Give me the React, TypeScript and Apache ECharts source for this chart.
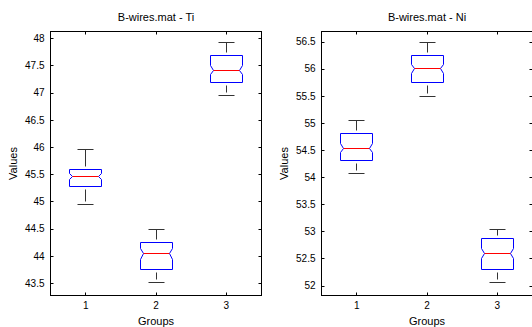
import React, { useEffect, useRef } from 'react';
import * as echarts from 'echarts';

const groups = ['1', '2', '3'];

// Ti
const tiLowerWhisker = [44.95, 43.52, 46.96];
const tiQ1 = [45.28, 43.76, 47.19];
const tiMedian = [45.46, 44.04, 47.42];
const tiQ3 = [45.6, 44.24, 47.68];
const tiUpperWhisker = [45.95, 44.48, 47.92];
const tiNotch = [0.055, 0.1, 0.08];

// Ni
const niLowerWhisker = [54.07, 55.5, 52.06];
const niQ1 = [54.31, 55.75, 52.3];
const niMedian = [54.54, 56.0, 52.59];
const niQ3 = [54.8, 56.24, 52.88];
const niUpperWhisker = [55.05, 56.48, 53.03];
const niNotch = [0.09, 0.083, 0.092];

const titles = ['B-wires.mat - Ti', 'B-wires.mat - Ni'];
const tiRange = [43.274, 48.129];
const niRange = [51.821, 56.69];

const FONT = "'Liberation Sans', Arial, sans-serif";

function boxData(lw: number[], q1: number[], med: number[], q3: number[], uw: number[], notch: number[]) {
  return groups.map((_, i) => [i, lw[i], q1[i], med[i], q3[i], uw[i], notch[i]]);
}

const px = (v: number) => Math.round(v - 0.5) + 0.5;

const renderBox = (params: any, api: any) => {
  const idx = api.value(0);
  const lw = api.value(1);
  const q1 = api.value(2);
  const med = api.value(3);
  const q3 = api.value(4);
  const uw = api.value(5);
  const notch = api.value(6);
  const band = api.size([1, 0])[0];
  const cx = px(api.coord([idx, med])[0]);
  const y = (v: number) => px(api.coord([idx, v])[1]);
  const w = Math.round(band * 0.225);
  const inset = Math.round(band * 0.047);
  const cap = Math.round(band * 0.12);
  const yLw = y(lw), yQ1 = y(q1), yMed = y(med), yQ3 = y(q3), yUw = y(uw);
  const yNHi = y(med + notch), yNLo = y(med - notch);
  const blue = '#0000ff';
  const dark = '#333333';
  return {
    type: 'group',
    children: [
      {
        type: 'polygon',
        shape: {
          points: [
            [cx - w, yQ3], [cx + w, yQ3], [cx + w, yNHi], [cx + w - inset, yMed],
            [cx + w, yNLo], [cx + w, yQ1], [cx - w, yQ1], [cx - w, yNLo],
            [cx - w + inset, yMed], [cx - w, yNHi],
          ],
        },
        style: { fill: 'none', stroke: blue, lineWidth: 1 },
      },
      {
        type: 'line',
        shape: { x1: cx - w + inset, y1: yMed, x2: cx + w - inset, y2: yMed },
        style: { stroke: '#ff0000', lineWidth: 1 },
      },
      {
        type: 'line',
        shape: { x1: cx, y1: yUw, x2: cx, y2: yQ3 - 3 },
        style: { stroke: dark, lineWidth: 1 },
      },
      {
        type: 'line',
        shape: { x1: cx, y1: yLw - 3, x2: cx, y2: yQ1 + 3 },
        style: { stroke: dark, lineWidth: 1 },
      },
      {
        type: 'line',
        shape: { x1: cx - cap, y1: yUw, x2: cx + cap, y2: yUw },
        style: { stroke: dark, lineWidth: 1 },
      },
      {
        type: 'line',
        shape: { x1: cx - cap, y1: yLw, x2: cx + cap, y2: yLw },
        style: { stroke: dark, lineWidth: 1 },
      },
    ],
  };
};

const axisLine = { show: true, lineStyle: { color: '#000', width: 1 } };
const tick = { show: true, inside: true, length: 3, lineStyle: { color: '#000' } };

function xAxes(gridIndex: number) {
  return [
    {
      gridIndex,
      type: 'category',
      data: groups,
      position: 'bottom',
      boundaryGap: true,
      axisLine,
      axisTick: { ...tick, alignWithLabel: true },
      axisLabel: { fontSize: 10, color: '#000', margin: 5, fontFamily: FONT },
      splitLine: { show: false },
      name: 'Groups',
      nameLocation: 'middle',
      nameGap: 20,
      nameTextStyle: { fontSize: 11, color: '#000', fontFamily: FONT },
    },
    {
      gridIndex,
      type: 'category',
      data: groups,
      position: 'top',
      boundaryGap: true,
      axisLine,
      axisTick: { ...tick, alignWithLabel: true },
      axisLabel: { show: false },
      splitLine: { show: false },
    },
  ];
}

function yAxes(gridIndex: number, range: number[]) {
  return [
    {
      gridIndex,
      type: 'value',
      min: range[0],
      max: range[1],
      splitNumber: 9,
      position: 'left',
      axisLine,
      axisTick: tick,
      axisLabel: {
        fontSize: 10, color: '#000', margin: 6, fontFamily: FONT,
        showMinLabel: false, showMaxLabel: false,
      },
      splitLine: { show: false },
      name: 'Values',
      nameLocation: 'middle',
      nameGap: 32,
      nameRotate: 90,
      nameTextStyle: { fontSize: 11, color: '#000', fontFamily: FONT },
    },
    {
      gridIndex,
      type: 'value',
      min: range[0],
      max: range[1],
      splitNumber: 9,
      position: 'right',
      axisLine,
      axisTick: tick,
      axisLabel: { show: false },
      splitLine: { show: false },
    },
  ];
}

const bigBounds = { left: -1000, top: -1000, width: 3000, height: 3000 };

export default function App() {
  const ref = useRef<HTMLDivElement>(null);
  useEffect(() => {
    if (!ref.current) return;
    const chart = echarts.init(ref.current, undefined, { renderer: 'svg' });
    chart.setOption({
      animation: false,
      backgroundColor: '#fff',
      textStyle: { fontFamily: FONT },
      title: [
        { text: titles[0], left: 156, top: 11, textAlign: 'center', padding: 0, textStyle: { fontSize: 11, fontWeight: 'normal', color: '#000', fontFamily: FONT } },
        { text: titles[1], left: 427, top: 11, textAlign: 'center', padding: 0, textStyle: { fontSize: 11, fontWeight: 'normal', color: '#000', fontFamily: FONT } },
      ],
      grid: [
        { left: 50.5, top: 31.5, width: 211, height: 264, outerBounds: bigBounds },
        { left: 321.5, top: 31.5, width: 211, height: 264, outerBounds: bigBounds },
      ],
      xAxis: [...xAxes(0), ...xAxes(1)],
      yAxis: [...yAxes(0, tiRange), ...yAxes(1, niRange)],
      series: [
        {
          type: 'custom',
          xAxisIndex: 0,
          yAxisIndex: 0,
          renderItem: renderBox,
          encode: { x: 0, y: [1, 2, 3, 4, 5] },
          data: boxData(tiLowerWhisker, tiQ1, tiMedian, tiQ3, tiUpperWhisker, tiNotch),
        },
        {
          type: 'custom',
          xAxisIndex: 2,
          yAxisIndex: 2,
          renderItem: renderBox,
          encode: { x: 0, y: [1, 2, 3, 4, 5] },
          data: boxData(niLowerWhisker, niQ1, niMedian, niQ3, niUpperWhisker, niNotch),
        },
      ],
    });
    return () => chart.dispose();
  }, []);
  return <div ref={ref} style={{ position: 'absolute', left: 0, top: 0, width: 532, height: 327 }} />;
}
